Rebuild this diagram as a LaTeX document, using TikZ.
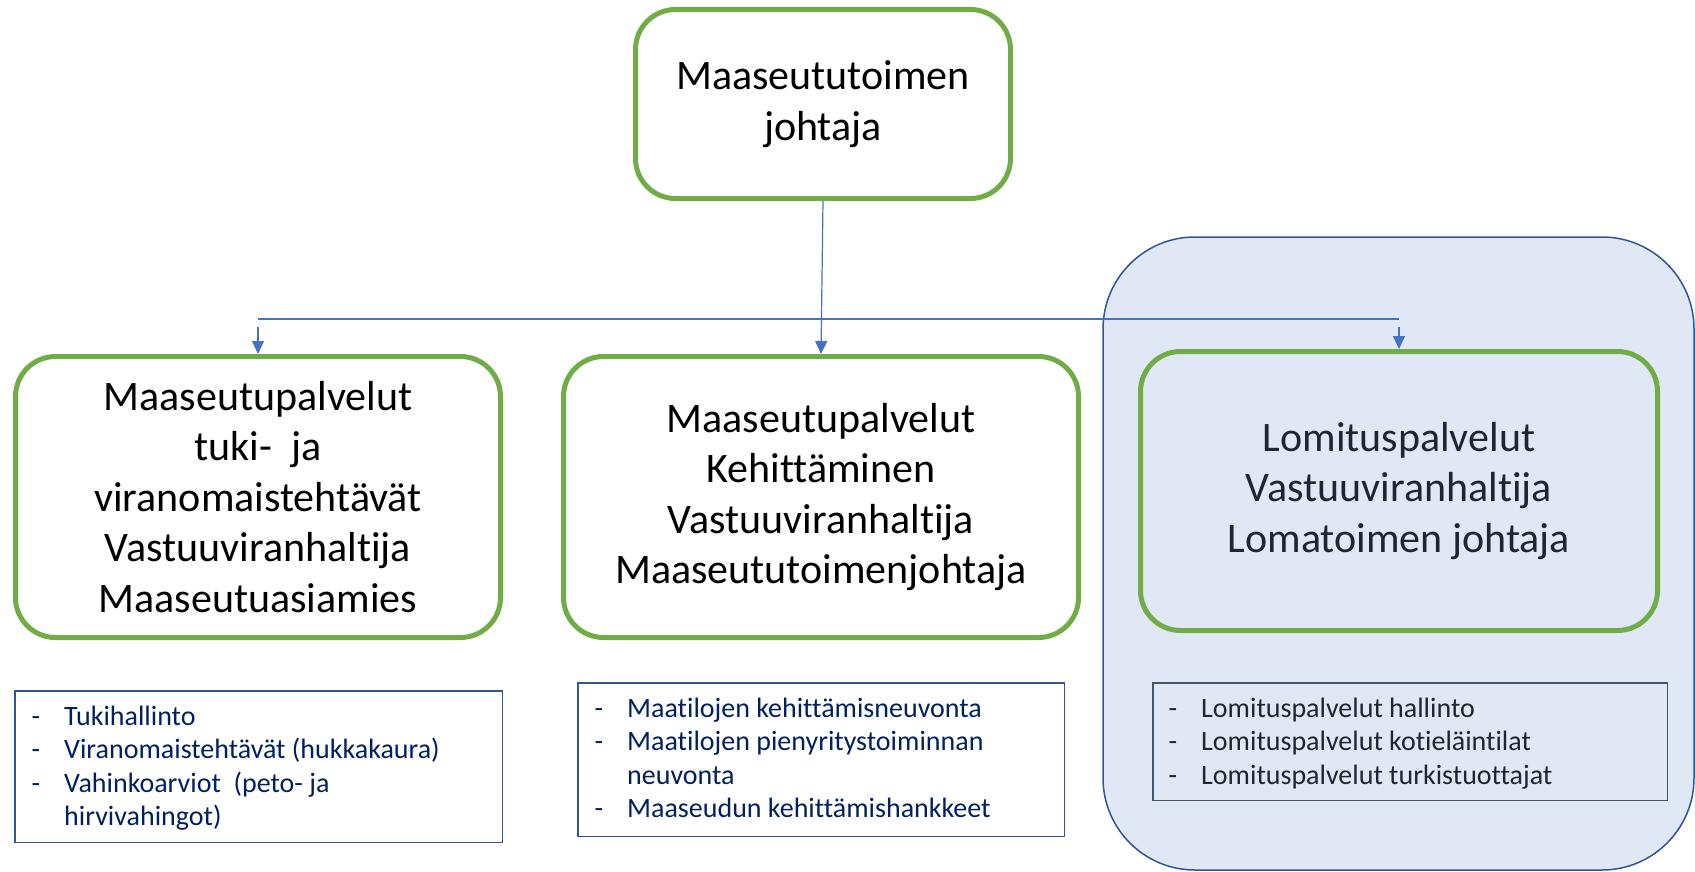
\documentclass[tikz,border=0pt]{standalone}
\usepackage{fontspec}
\setmainfont{Carlito}[Ligatures=NoCommon]
\usetikzlibrary{arrows.meta}

\definecolor{vihrea}{HTML}{70AD47}
\definecolor{nuoli}{HTML}{4472C4}
\definecolor{tummasini}{HTML}{002060}
\definecolor{reuna}{HTML}{2F5597}
\definecolor{tausta}{HTML}{E1E8F5}
\definecolor{harmaa}{HTML}{44546A}
\definecolor{lomateksti}{HTML}{1E2533}

\begin{document}
\begin{tikzpicture}[x=1pt, y=-1pt,
    laatikko/.style={draw=vihrea, line width=5pt, rounded corners=40pt, align=center,
      inner sep=0pt, font=\fontsize{42}{50.5}\selectfont},
    lista/.style={draw=reuna, line width=1.5pt, inner sep=0pt},
    kohta/.style={anchor=base west, inner sep=0pt, text=tummasini, font=\fontsize{28}{33.5}\selectfont},
    viiva/.style={draw=nuoli, line width=1.2pt},
    nuolet/.style={viiva, -{Triangle[length=13pt, width=12pt]}}]
        \useasboundingbox (0,0) rectangle (1695,872);

        % Lomitus background
        \draw[draw=reuna, line width=1.5pt, fill=tausta, rounded corners=92pt] (1103,237) rectangle (1694,870);

        % Boxes
        \node[laatikko, minimum width=375pt, minimum height=189pt] (johtaja) at (823,104)
            {Maaseututoimen\\johtaja};
        \node[laatikko, minimum width=485pt, minimum height=281pt] (tuki) at (258,497)
            {Maaseutupalvelut\\tuki-\ \ ja\\viranomaistehtävät\\Vastuuviranhaltija\\Maaseutuasiamies};
        \node[laatikko, minimum width=515pt, minimum height=281pt] (kehitys) at (821,497)
            {Maaseutupalvelut\\Kehittäminen\\Vastuuviranhaltija\\Maaseututoimenjohtaja};
        \node[laatikko, minimum width=517pt, minimum height=279pt, text=lomateksti] (lomitus) at (1399,491)
            {Lomituspalvelut\\Vastuuviranhaltija\\Lomatoimen johtaja};

        % Connectors
        \coordinate (haaraV) at (258,319);
        \coordinate (haaraO) at (1399,319);
        \draw[viiva] (haaraV) -- (haaraO);
        \draw[nuolet] (johtaja.south) -- (kehitys.north);
        \draw[nuolet] ([yshift=-8pt]haaraV) -- (tuki.north);
        \draw[nuolet] ([yshift=-8pt]haaraO) -- (lomitus.north);

        % Task lists
        \node[lista, minimum width=487.5pt, minimum height=151.5pt] (tukilista) at (258.5,766.5) {};
        \node[kohta, anchor=base] (td1) at (36,725) {-};
        \node[kohta] (tt1) at (64,725) {Tukihallinto};
        \node[kohta, anchor=base] (td2) at (36,758.5) {-};
        \node[kohta] (tt2) at (64,758.5) {Viranomaistehtävät (hukkakaura)};
        \node[kohta, anchor=base] (td3) at (36,792) {-};
        \node[kohta] (tt3) at (64,792) {Vahinkoarviot\ \ (peto- ja};
        \node[kohta] (tt4) at (64,825.5) {hirvivahingot)};

        \node[lista, minimum width=486.5pt, minimum height=153.5pt] (kehityslista) at (821,759.5) {};
        \node[kohta, anchor=base] (kd1) at (599,717) {-};
        \node[kohta] (kt1) at (627,717) {Maatilojen kehittämisneuvonta};
        \node[kohta, anchor=base] (kd2) at (599,750.5) {-};
        \node[kohta] (kt2) at (627,750.5) {Maatilojen pienyritystoiminnan};
        \node[kohta] (kt3) at (627,784) {neuvonta};
        \node[kohta, anchor=base] (kd3) at (599,817.5) {-};
        \node[kohta] (kt4) at (627,817.5) {Maaseudun kehittämishankkeet};

        \node[lista, draw=harmaa, minimum width=514.5pt, minimum height=117.5pt] (lomituslista) at (1410,741.5) {};
        \node[kohta, anchor=base, text=lomateksti] (ld1) at (1173,717) {-};
        \node[kohta, text=lomateksti] (lt1) at (1201,717) {Lomituspalvelut hallinto};
        \node[kohta, anchor=base, text=lomateksti] (ld2) at (1173,750.5) {-};
        \node[kohta, text=lomateksti] (lt2) at (1201,750.5) {Lomituspalvelut kotieläintilat};
        \node[kohta, anchor=base, text=lomateksti] (ld3) at (1173,784) {-};
        \node[kohta, text=lomateksti] (lt3) at (1201,784) {Lomituspalvelut turkistuottajat};
\end{tikzpicture}
\end{document}
